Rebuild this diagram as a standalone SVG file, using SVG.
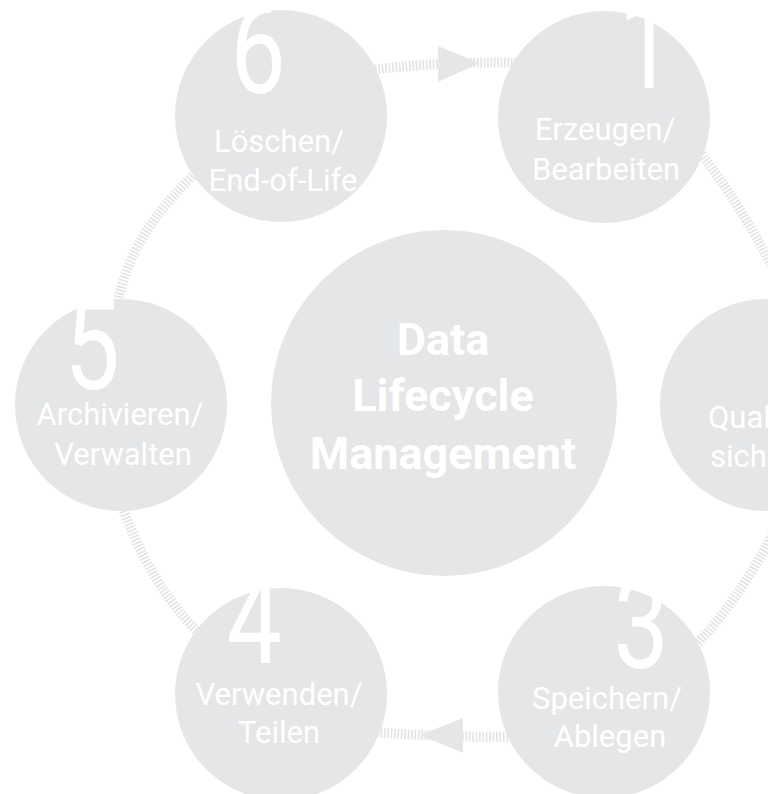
<svg xmlns="http://www.w3.org/2000/svg" width="768" height="794" viewBox="0 0 768 794">
<style>
.ring{fill:none;stroke:#e3e4e5;stroke-width:10;stroke-dasharray:1.7 1.7}
.arr{fill:#e5e6e7}
.node{fill:#e5e6e7}
.lbl{font-family:Roboto,"Open Sans","Liberation Sans",sans-serif;font-weight:400;font-size:31px;fill:#ffffff;text-anchor:middle}
.num{font-family:Roboto,"Open Sans","Liberation Sans",sans-serif;font-weight:400;font-size:126px;fill:#ffffff;text-anchor:middle}
.ctr{font-family:Roboto,"Liberation Sans",sans-serif;font-weight:700;font-size:45px;fill:#ffffff;text-anchor:middle}
</style>
<rect width="768" height="794" fill="#ffffff"/>
<g id="connectors">
<path class="ring" d="M355,72 Q437.5,60.5 530,63"/>
<polygon class="arr" points="438,46 438,82 480,63"/>
<path class="ring" d="M691,141 Q743,205.5 783,288"/>
<path class="ring" d="M780,520 Q737.5,606 685,656"/>
<path class="ring" d="M350,730 Q445,739 535,736"/>
<polygon class="arr" points="463,718 463,753 420,735"/>
<path class="ring" d="M115,485 Q149,594 215,647"/>
<path class="ring" d="M116,318 Q123,235 210,160"/>
</g>
<g id="center">
<circle class="node" cx="444" cy="403" r="173"/>
<text class="ctr" x="443" y="355">Data</text>
<text class="ctr" x="443" y="411">Lifecycle</text>
<text class="ctr" x="443" y="469">Management</text>
</g>
<g id="node1">
<circle class="node" cx="604" cy="117" r="106"/>
<text class="num" transform="translate(646,88) scale(0.78,1)">1</text>
<text class="lbl" x="605" y="140">Erzeugen/</text>
<text class="lbl" x="606" y="180">Bearbeiten</text>
</g>
<g id="node2">
<circle class="node" cx="766" cy="405" r="106"/>
<text class="lbl" x="708" y="428" style="text-anchor:start">Qualität/</text>
<text class="lbl" x="710" y="467" style="text-anchor:start">sichern</text>
</g>
<g id="node3">
<circle class="node" cx="604" cy="692" r="106"/>
<text class="num" transform="translate(641,668) scale(0.78,1)">3</text>
<text class="lbl" x="607" y="709">Speichern/</text>
<text class="lbl" x="610" y="747">Ablegen</text>
</g>
<g id="node4">
<circle class="node" cx="281" cy="694" r="106"/>
<text class="num" transform="translate(254,663) scale(0.78,1)">4</text>
<text class="lbl" x="279" y="705">Verwenden/</text>
<text class="lbl" x="279" y="743">Teilen</text>
</g>
<g id="node5">
<circle class="node" cx="121" cy="405" r="106"/>
<text class="num" transform="translate(92,389) scale(0.78,1)">5</text>
<text class="lbl" x="120" y="425">Archivieren/</text>
<text class="lbl" x="123" y="465">Verwalten</text>
</g>
<g id="node6">
<circle class="node" cx="281" cy="116" r="106"/>
<text class="num" transform="translate(258,93) scale(0.78,1)">6</text>
<text class="lbl" x="279" y="152">Löschen/</text>
<text class="lbl" x="283" y="191">End-of-Life</text>
</g>
</svg>
